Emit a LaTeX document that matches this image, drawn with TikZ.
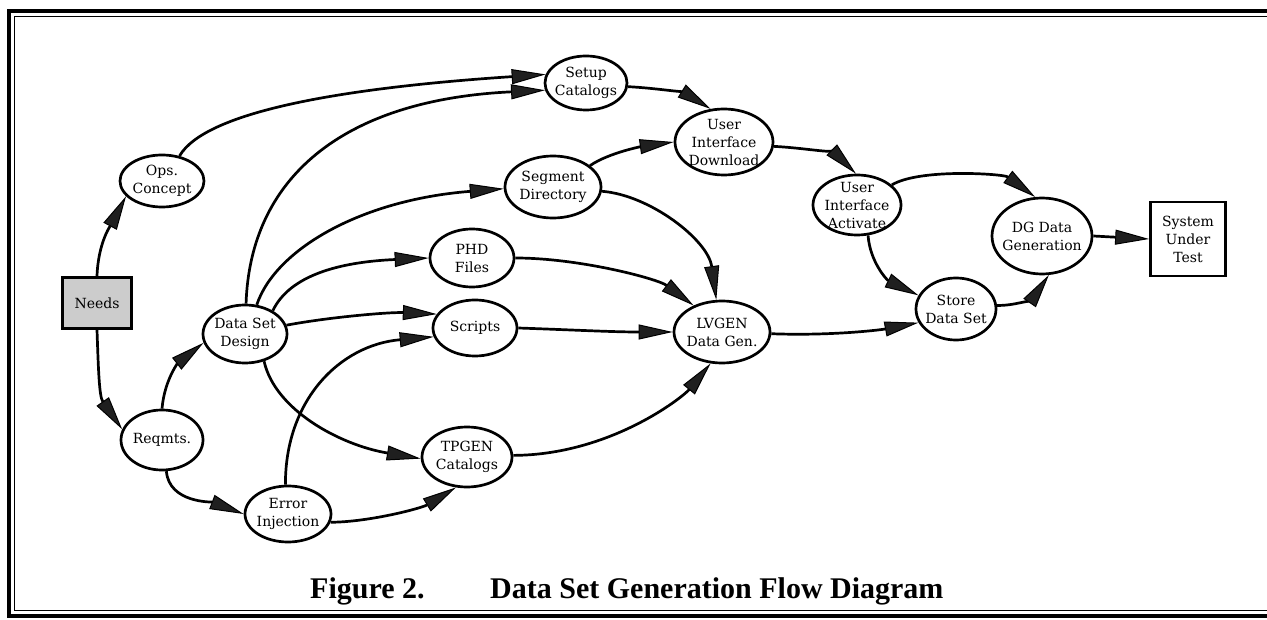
\documentclass[tikz,border=0pt]{standalone}
\usepackage{fontspec}
\newfontfamily\capfont{Liberation Serif}
\newfontfamily\ndfont{DejaVu Serif}
\usetikzlibrary{shapes.geometric,arrows.meta}
\begin{document}
\begin{tikzpicture}[x=1pt,y=-1pt,
  nd/.style={ellipse, draw, line width=2.7pt, inner sep=-9pt, align=center, font=\ndfont\fontsize{14}{18}\selectfont},
  boxnd/.style={rectangle, draw, line width=2.7pt, inner sep=0pt, align=center, font=\ndfont\fontsize{14}{18}\selectfont},
  flow/.style={line width=2.7pt, -{Triangle[length=34pt,width=15pt,line width=1pt,fill=black!88]}},
  captext/.style={anchor=base west, inner sep=0pt, font=\capfont\bfseries\fontsize{30}{34}\selectfont},
]
\useasboundingbox (0,0) rectangle (1267,620);
% frame
\draw[line width=3.5pt] (9,11) rectangle (1274,616);
\draw[line width=1.4pt] (14.5,16.5) rectangle (1271,610.5);

% nodes
\node[boxnd, fill=black!20, minimum width=69pt, minimum height=51pt] (needs) at (97,303) {Needs};
\node[nd, minimum width=84pt, minimum height=52pt] (ops) at (162,181) {Ops.\\Concept};
\node[nd, minimum width=82pt, minimum height=60pt] (reqmts) at (162,440) {Reqmts.};
\node[nd, minimum width=84pt, minimum height=58pt] (dsd) at (245,334) {Data Set\\Design};
\node[nd, minimum width=86pt, minimum height=56pt] (err) at (288,514) {Error\\Injection};
\node[nd, minimum width=82pt, minimum height=54pt] (setup) at (586,83) {Setup\\Catalogs};
\node[nd, minimum width=98pt, minimum height=66pt] (uid) at (724,142) {User\\Interface\\Download};
\node[nd, minimum width=96pt, minimum height=62pt] (seg) at (553,187) {Segment\\Directory};
\node[nd, minimum width=84pt, minimum height=58pt] (phd) at (472,258) {PHD\\Files};
\node[nd, minimum width=84pt, minimum height=56pt] (scripts) at (475,328) {Scripts};
\node[nd, minimum width=96pt, minimum height=62pt] (lvgen) at (722,332) {LVGEN\\Data Gen.};
\node[nd, minimum width=90pt, minimum height=60pt] (tpgen) at (467,457) {TPGEN\\Catalogs};
\node[nd, minimum width=88pt, minimum height=60pt] (uia) at (857,205) {User\\Interface\\Activate};
\node[nd, minimum width=100pt, minimum height=76pt] (dg) at (1042,236) {DG Data\\Generation};
\node[nd, minimum width=80pt, minimum height=62pt] (store) at (956,309) {Store\\Data Set};
\node[boxnd, minimum width=75pt, minimum height=74pt] (sut) at (1188,239) {System\\Under\\Test};

% edges
\draw[flow] (needs.north) to[out=88,in=242] (ops.203);
\draw[flow] (needs.south) to[out=272,in=125] (reqmts.165);
\draw[flow] (reqmts.north) to[out=85,in=218] (dsd.192);
\draw[flow] (reqmts.278) .. controls (169,503) and (212,502) .. (err.180);
\draw[flow] (ops.55) .. controls (205,112) and (340,88) .. (setup.168);
\draw[flow] (dsd.88) .. controls (250,180) and (340,100) .. (setup.190);
\draw[flow] (dsd.68) .. controls (275,250) and (360,200) .. (seg.182);
\draw[flow] (dsd.40) .. controls (290,275) and (340,262) .. (phd.180);
\draw[flow] (dsd.12) .. controls (330,317) and (390,312) .. (scripts.160);
\draw[flow] (err.95) .. controls (285,400) and (340,345) .. (scripts.192);
\draw[flow] (dsd.305) .. controls (275,410) and (340,445) .. (tpgen.182);
\draw[flow] (err.349) .. controls (370,522) and (422,508) .. (tpgen.250);
\draw[flow] (setup.355) .. controls (655,88) and (685,93) .. (uid.112);
\draw[flow] (seg.30) .. controls (610,152) and (645,146) .. (uid.180);
\draw[flow] (seg.355) .. controls (650,195) and (708,240) .. (lvgen.100);
\draw[flow] (phd.0) .. controls (580,258) and (658,279) .. (lvgen.137);
\draw[flow] (scripts.0) to[out=-2,in=180] (lvgen.180);
\draw[flow] (tpgen.2) .. controls (610,455) and (683,397) .. (lvgen.250);
\draw[flow] (uid.355) .. controls (805,148) and (836,154) .. (uia.92);
\draw[flow] (lvgen.358) .. controls (830,336) and (880,330) .. (store.200);
\draw[flow] (uia.30) .. controls (920,168) and (1004,174) .. (dg.100);
\draw[flow] (uia.290) .. controls (870,262) and (887,280) .. (store.160);
\draw[flow] (store.5) .. controls (1015,306) and (1033,298) .. (dg.280);
\draw[flow] (dg.0) -- (sut.west);

% caption
\node[captext] (fig) at (310,598) {Figure 2.};
\node[captext] (cap) at (490,598) {Data Set Generation Flow Diagram};
\end{tikzpicture}
\end{document}
